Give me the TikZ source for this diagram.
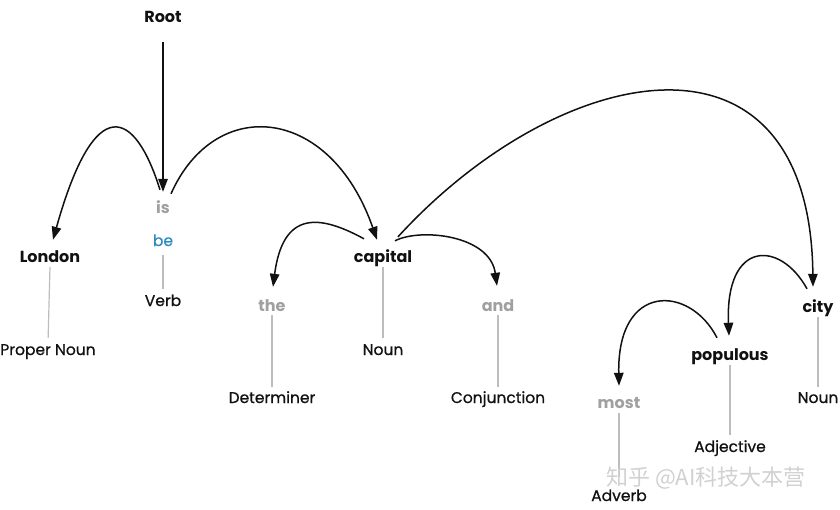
\documentclass[tikz,border=0pt]{standalone}
\usepackage{fontspec}
\setmainfont{Poppins}
\newfontfamily\labelfont[FakeBold=0.7]{Poppins}
\newfontfamily\cjk{Noto Sans CJK SC}
\usetikzlibrary{arrows.meta,calc}
\definecolor{ink}{HTML}{111111}
\definecolor{wgrey}{HTML}{A0A0A0}
\definecolor{lemma}{HTML}{2E8BC0}
\definecolor{stemc}{HTML}{BDBDBD}
\tikzset{
  word/.style={anchor=base,inner sep=0pt,text height=12pt,text depth=4pt,font=\fontsize{16}{17}\selectfont\bfseries,text=ink},
  fword/.style={word,text=wgrey},
  lem/.style={anchor=base,inner sep=0pt,text height=12pt,text depth=4pt,font=\labelfont\fontsize{15.5}{16}\selectfont,text=lemma},
  poslabel/.style={anchor=base,inner sep=0pt,text height=12pt,text depth=4pt,font=\labelfont\fontsize{15.5}{16}\selectfont,text=ink},
  stemline/.style={draw=stemc,line width=1.2pt,shorten <=1pt,shorten >=5pt},
  deparc/.style={draw=ink,line width=1.5pt,-{Triangle[length=13pt,width=9.5pt]}}
}
\begin{document}
\begin{tikzpicture}[x=1pt,y=-1pt]
\useasboundingbox[fill=white] (0,0) rectangle (840,509);
% words
\node[word] (Root) at (163,22) {Root};
\node[fword] (is) at (163,213) {is};
\node[lem] (be) at (163,246) {be};
\node[poslabel] (Verb) at (163,306) {Verb};
\node[word] (London) at (50,262) {London};
\node[poslabel] (PN) at (48,355) {Proper Noun};
\node[word] (capital) at (383,262) {capital};
\node[poslabel] (Noun1) at (383,355) {Noun};
\node[fword] (the) at (272,311) {the};
\node[poslabel] (Det) at (272,403) {Determiner};
\node[fword] (and) at (498,311) {and};
\node[poslabel] (Conj) at (498,403) {Conjunction};
\node[fword] (most) at (619,408) {most};
\node[poslabel] (Adv) at (619,501) {Adverb};
\node[word] (populous) at (730,360) {populous};
\node[poslabel] (Adj) at (730,452) {Adjective};
\node[word] (city) at (818,312) {city};
\node[poslabel] (Noun2) at (818,403) {Noun};
% stems
\draw[stemline,shorten <=5pt] (be.south) -- (Verb.north);
\draw[stemline] (London.south) -- (PN.north);
\draw[stemline] (capital.south) -- (Noun1.north);
\draw[stemline,shorten <=0pt,shorten >=4pt] (the.south) -- (Det.north);
\draw[stemline,shorten <=0pt,shorten >=4pt] (and.south) -- (Conj.north);
\draw[stemline,shorten <=1pt,shorten >=12pt] (most.south) -- (Adv.north);
\draw[stemline] (populous.south) -- (Adj.north);
\draw[stemline,shorten >=4pt] (city.south) -- (Noun2.north);
% arcs
\draw[deparc] ($(Root.south)+(0,16)$) -- ($(is.north)+(0,-9)$);
\draw[deparc] ($(is.north)+(-3,-11)$) .. controls +(-25,-80) and +(42,-150) .. ($(London.north)+(3,-10)$);
\draw[deparc] ($(is.north)+(8,-7)$) .. controls +(44,-99) and +(-47,-135) .. ($(capital.north)+(-6,-10)$);
\draw[deparc] ($(capital.north)+(-19,-11)$) .. controls +(-44,-24) and +(10,-77) .. ($(the.north)+(1,-12)$);
\draw[deparc] ($(capital.north)+(12,-9)$) .. controls +(25,-13) and +(-7,-51) .. ($(and.north)+(-1,-13)$);
\draw[deparc] ($(capital.north)+(15,-13)$) .. controls +(162,-177) and +(-3,-277) .. ($(city.north)+(-5,-13)$);
\draw[deparc] ($(city.north)+(-11,-11)$) .. controls +(-27,-49) and +(-4,-96) .. ($(populous.north)+(-1,-12)$);
\draw[deparc] ($(populous.north)+(-13,-10)$) .. controls +(-27,-53) and +(-2,-104) .. ($(most.north)+(0,-10)$);
% watermark
\node[anchor=base,inner sep=0pt,font=\cjk\fontsize{22}{24}\selectfont,text=black!18] (wm) at (706,485) {知乎 @AI科技大本营};
\end{tikzpicture}
\end{document}
